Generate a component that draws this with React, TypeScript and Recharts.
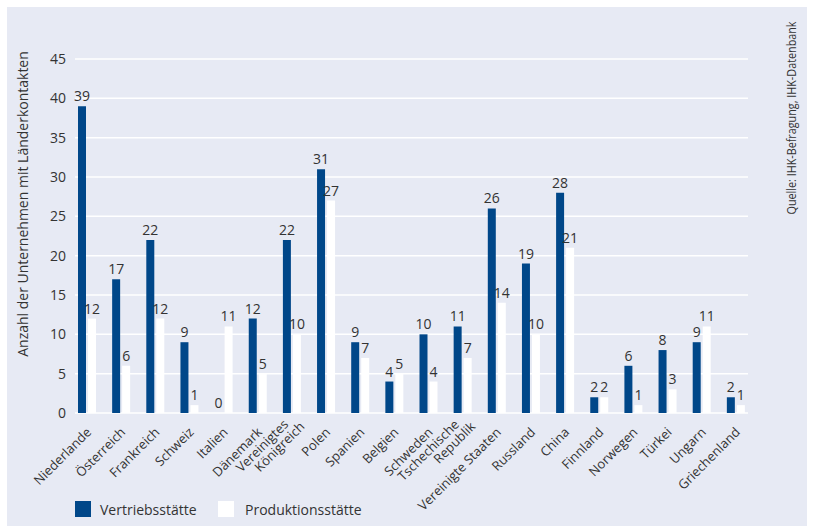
import React from 'react';
import { BarChart, Bar, XAxis, YAxis, CartesianGrid, LabelList } from 'recharts';

const countries = [
  'Niederlande', 'Österreich', 'Frankreich', 'Schweiz', 'Italien', 'Dänemark',
  'Vereinigtes\nKönigreich', 'Polen', 'Spanien', 'Belgien', 'Schweden',
  'Tschechische\nRepublik', 'Vereinigte Staaten', 'Russland', 'China', 'Finnland',
  'Norwegen', 'Türkei', 'Ungarn', 'Griechenland',
];
const vertrieb = [39, 17, 22, 9, 0, 12, 22, 31, 9, 4, 10, 11, 26, 19, 28, 2, 6, 8, 9, 2];
const produktion = [12, 6, 12, 1, 11, 5, 10, 27, 7, 5, 4, 7, 14, 10, 21, 2, 1, 3, 11, 1];
const yTicks = [0, 5, 10, 15, 20, 25, 30, 35, 40, 45];

const data = countries.map((name, i) => ({
  name,
  vertrieb: vertrieb[i],
  produktion: produktion[i],
}));

const BLUE = '#004789';
const TEXT = '#333333';
const FONT = '"Open Sans", "Noto Sans", sans-serif';

const CountryTick = (props: any) => {
  const { x, y, payload } = props;
  const lines: string[] = String(payload.value).split('\n');
  return (
    <g transform={`translate(${x + 5},${y + 18}) rotate(-45)`}>
      {lines.length === 1 ? (
        <text x={0} y={0} textAnchor="end" fontSize={13} fill={TEXT} fontFamily={FONT}>
          {lines[0]}
        </text>
      ) : (
        <>
          <text x={0} y={-11} textAnchor="end" fontSize={13} fill={TEXT} fontFamily={FONT}>
            {lines[0]}
          </text>
          <text x={10} y={2} textAnchor="end" fontSize={13} fill={TEXT} fontFamily={FONT}>
            {lines[1]}
          </text>
        </>
      )}
    </g>
  );
};

// grid lines are inset a little from the plot edges
const GridLine = (props: any) => (
  <line
    key={props.key}
    x1={props.x1 + 5}
    x2={props.x2 - 5}
    y1={props.y1}
    y2={props.y2}
    stroke="#ffffff"
    strokeWidth={1.5}
  />
);

// value label above a bar, drawn even when the bar has no height
const ValueLabel = (props: any) => {
  const { x, y, width, value } = props;
  if (value == null) return null;
  return (
    <text
      x={x + width / 2}
      y={y - 5}
      textAnchor="middle"
      fontSize={14}
      fill={TEXT}
      fontFamily={FONT}
    >
      {value}
    </text>
  );
};

const App: React.FC = () => {
  return (
    <div style={{ position: 'absolute', left: 0, top: 0, width: 813, height: 527 }}>
      <div
        style={{
          position: 'absolute',
          left: 7,
          top: 7,
          width: 800,
          height: 519,
          background: '#e7eaf4',
        }}
      />
      <div style={{ position: 'absolute', left: 0, top: 0 }}>
        <BarChart
          width={813}
          height={527}
          data={data}
          margin={{ top: 59, right: 60, bottom: 84, left: 0 }}
          barSize={8}
          barGap={2}
        >
          <CartesianGrid vertical={false} horizontal={GridLine as any} />
          <XAxis
            dataKey="name"
            height={30}
            interval={0}
            axisLine={false}
            tickLine={false}
            tickSize={0}
            tick={<CountryTick />}
          />
          <YAxis
            width={70}
            domain={[0, 45]}
            ticks={yTicks}
            axisLine={false}
            tickLine={false}
            tickSize={0}
            tickMargin={4}
            tick={{ fontSize: 14, fill: TEXT, fontFamily: FONT }}
          />
          <Bar dataKey="vertrieb" fill={BLUE} minPointSize={0.001} isAnimationActive={false}>
            <LabelList dataKey="vertrieb" content={<ValueLabel />} />
          </Bar>
          <Bar dataKey="produktion" fill="#ffffff" minPointSize={0.001} isAnimationActive={false}>
            <LabelList dataKey="produktion" content={<ValueLabel />} />
          </Bar>
        </BarChart>
      </div>
      <svg width={813} height={527} style={{ position: 'absolute', left: 0, top: 0, pointerEvents: 'none' }}>
        <text
          transform="translate(28,204) rotate(-90)"
          textAnchor="middle"
          fontSize={14}
          fill={TEXT}
          fontFamily={FONT}
        >
          Anzahl der Unternehmen mit Länderkontakten
        </text>
        <text
          transform="translate(796,118) rotate(-90)"
          textAnchor="middle"
          fontSize={12}
          fill={TEXT}
          fontFamily={FONT}
          textLength={193}
          lengthAdjust="spacingAndGlyphs"
        >
          Quelle: IHK-Befragung, IHK-Datenbank
        </text>
        <rect x={75} y={501} width={16} height={16} fill={BLUE} />
        <text x={100} y={515} fontSize={14} fill={TEXT} fontFamily={FONT}>
          Vertriebsstätte
        </text>
        <rect x={218} y={501} width={16} height={16} fill="#ffffff" />
        <text x={245} y={515} fontSize={14} fill={TEXT} fontFamily={FONT}>
          Produktionsstätte
        </text>
      </svg>
    </div>
  );
};

export default App;
